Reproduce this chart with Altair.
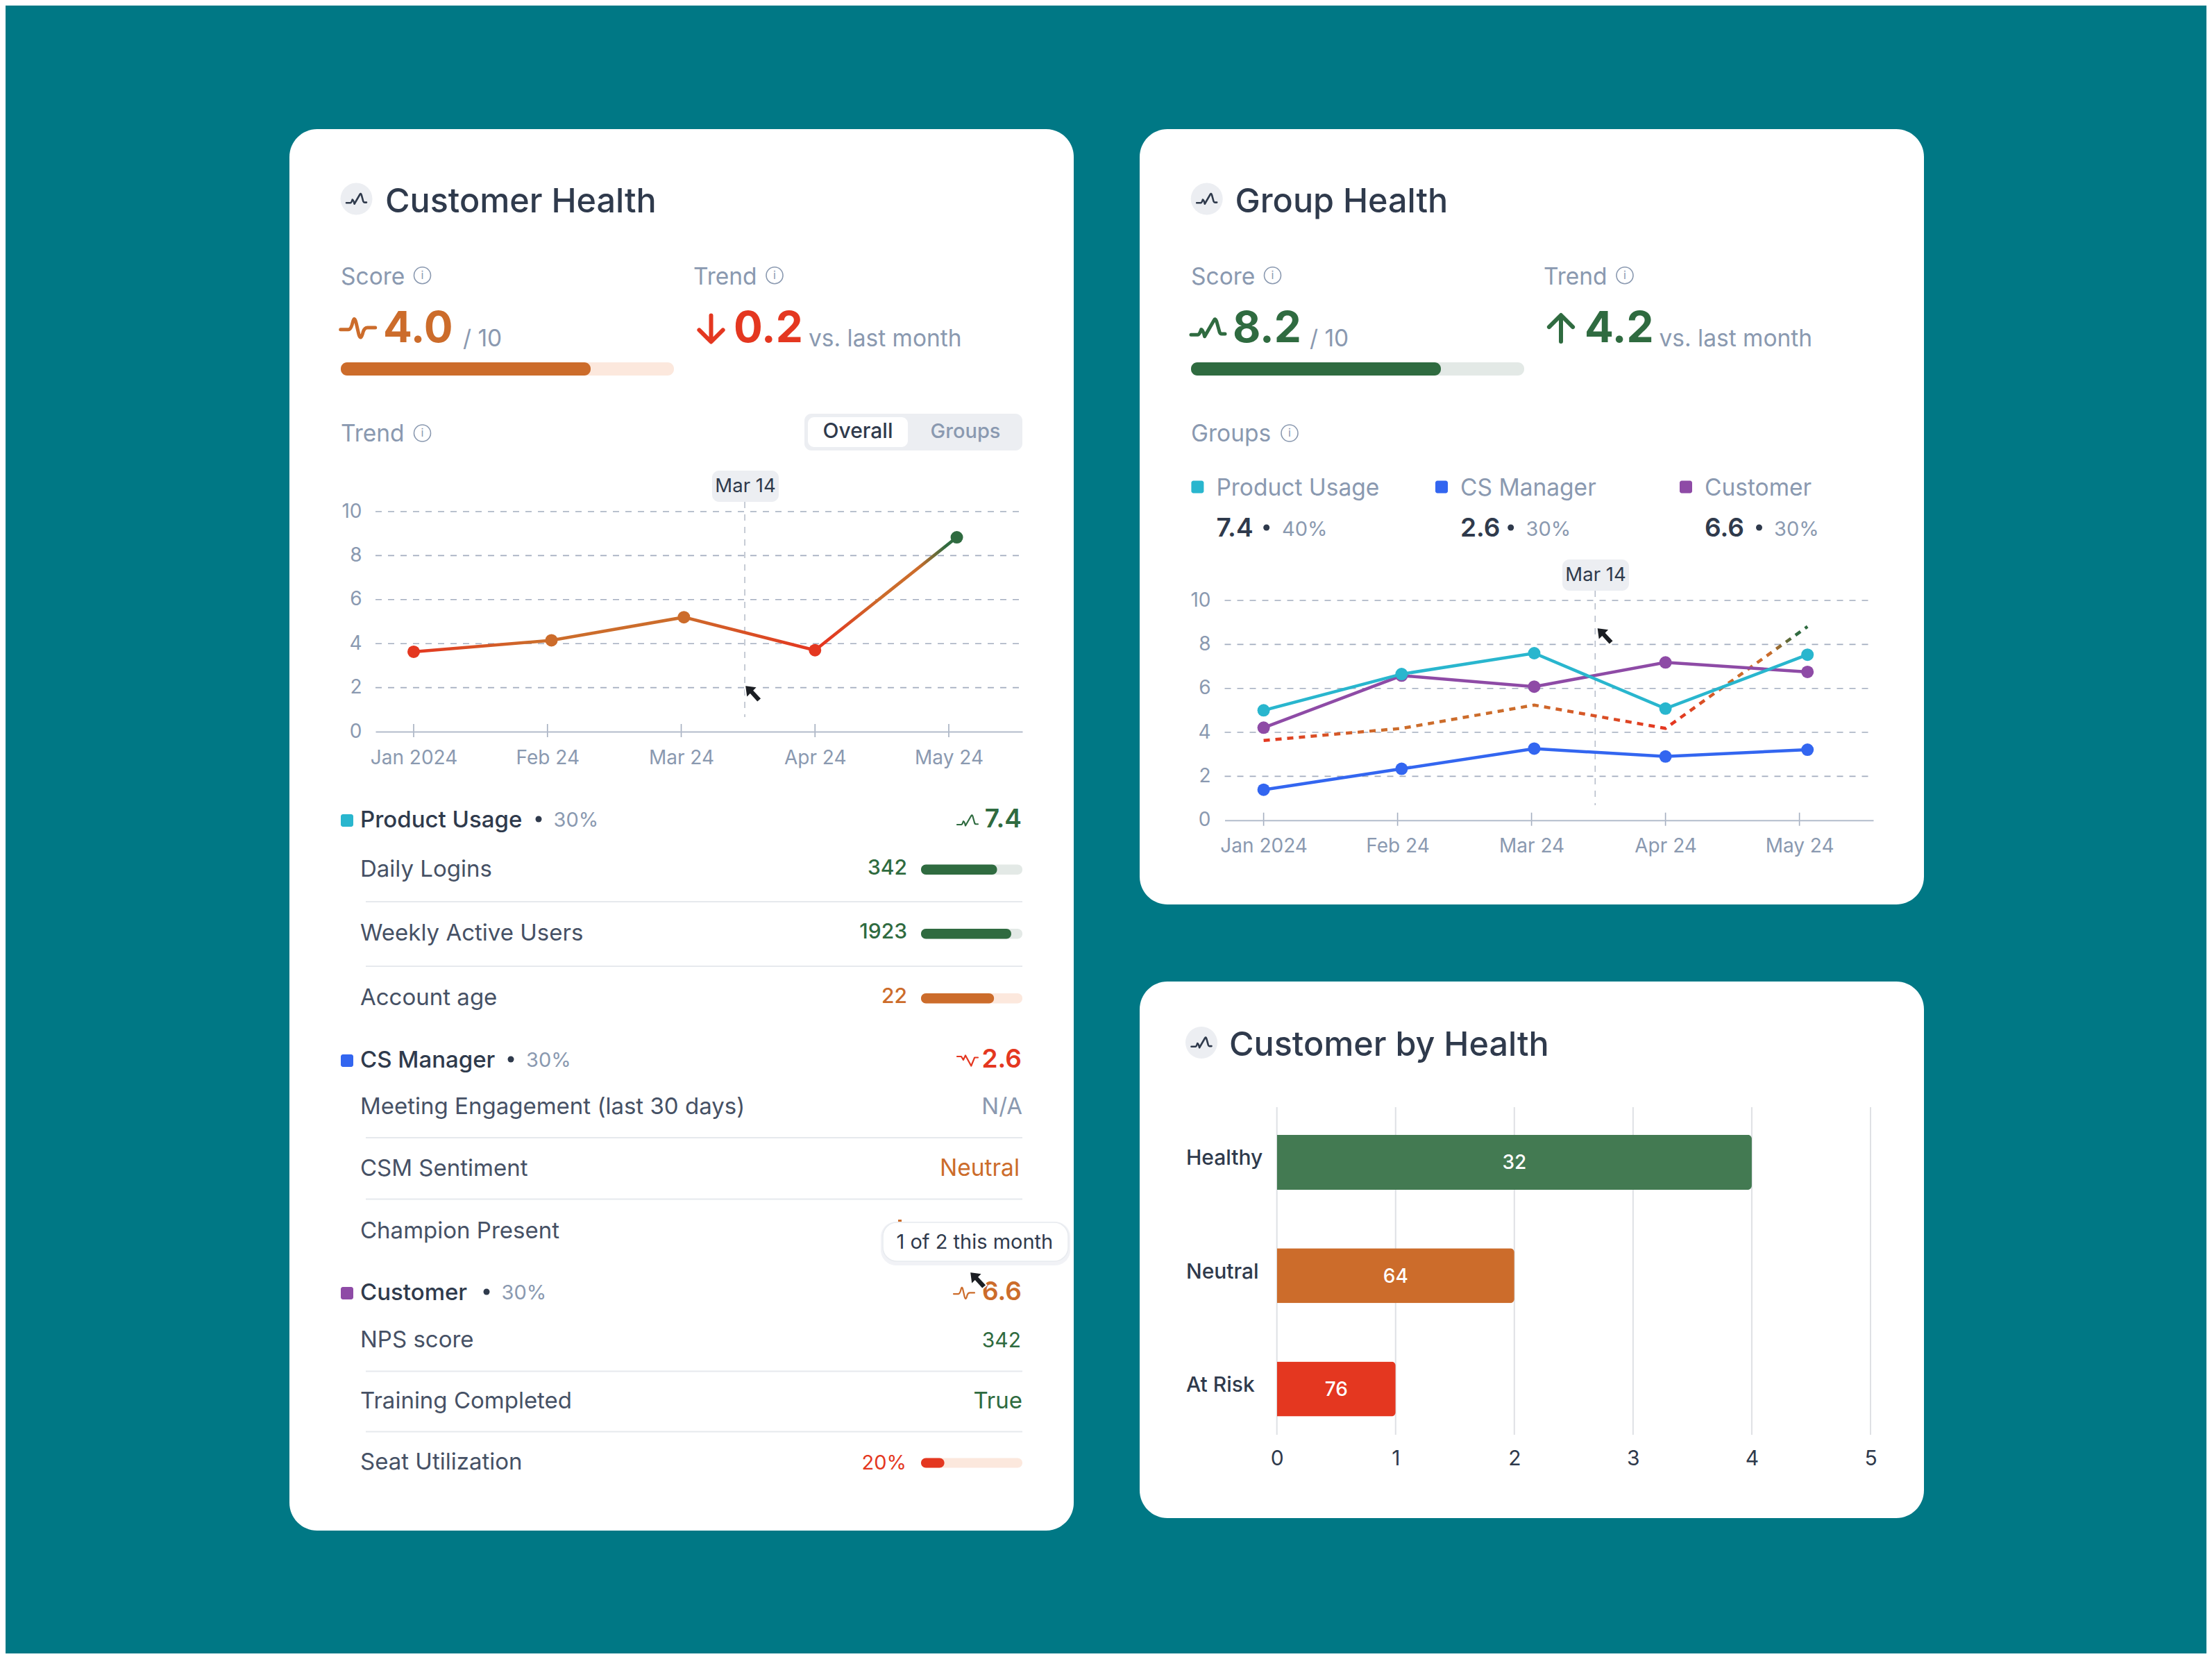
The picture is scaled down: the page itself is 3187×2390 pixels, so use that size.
import json
import altair as alt
import pandas as pd

FONT = "Inter"
W, H = 3171, 2374
INK, BODY, MUTED = "#2f3a4c", "#465165", "#8a99b0"
GREEN, ORANGE, RED = "#2f6b40", "#cc6c2b", "#e43720"
TEAL, BLUE, PURPLE = "#29b6ce", "#3366f0", "#8e4ba6"
TRACK_G, TRACK_O, PILL = "#e3e9e6", "#fce8dd", "#eceef2"

# ---------- data ----------
MONTH_LABELS = ["Jan 2024", "Feb 24", "Mar 24", "Apr 24", "May 24"]
MONTH_TICKS = [0, 1, 2, 3, 4]
Y_TICKS = [0, 2, 4, 6, 8, 10]
POINT_MONTHS = [0, 1.03, 2.02, 3.0, 4.06]
OVERALL = [3.63, 4.15, 5.2, 3.7, 8.83]
OVERALL_STATUS = ["risk", "neutral", "neutral", "risk", "healthy"]
GROUP_OVERALL = [3.63, 4.18, 5.24, 4.18, 8.81]
PRODUCT_USAGE = [5.0, 6.65, 7.6, 5.08, 7.53]
CS_MANAGER = [1.39, 2.34, 3.26, 2.9, 3.21]
CUSTOMER = [4.21, 6.58, 6.08, 7.18, 6.75]
GROUP_NAMES = ["Product Usage", "CS Manager", "Customer"]
MARCH_14 = 2.475
BAR_CATS = ["Healthy", "Neutral", "At Risk"]
BAR_LEN = [4, 2, 1]
BAR_COUNT = [32, 64, 76]
BAR_TICKS = [0, 1, 2, 3, 4, 5]
SCORE_FILL = [75, 75]
ROW_FILL = {"Daily Logins": 75, "Weekly Active Users": 89, "Account age": 72, "Seat Utilization": 23}

STATUS_SCALE = alt.Scale(domain=["risk", "neutral", "healthy"], range=[RED, ORANGE, GREEN])
GROUP_SCALE = alt.Scale(domain=GROUP_NAMES, range=[TEAL, BLUE, PURPLE])

# ---------- shapes (unit square -1..1) ----------
WAVE_UP = "M-1,.4 L-.6,.4 Q-.5,.4 -.4,.08 Q-.3,.08 -.2,.5 L.35,-.45 Q.42,-.6 .5,-.4 L.68,.25 Q.72,.35 .8,.35 L1,.35"
WAVE_DOWN = "M-1,-.4 L-.6,-.4 L-.4,-.08 L-.2,-.5 L.35,.5 L.68,-.3 L1,-.3"
WAVE_MID = "M-1,.07 L-.55,.07 Q-.4,.07 -.3,-.35 Q-.2,-.75 -.1,-.3 L.05,.35 Q.17,.75 .3,.2 Q.38,-.04 .55,-.04 L1,-.04"
ARROW_DOWN = "M0,-1 L0,.95 M-.9,.1 L0,1 L.9,.1"
ARROW_UP = "M0,1 L0,-.95 M-.9,-.1 L0,-1 L.9,-.1"
CURSOR = "M-1,-1 L-.8,.5 L-.38,.08 L.45,1 L.95,.55 L.08,-.38 L.5,-.8 Z"

L = []

def X(v):
    return alt.value(v - 8)

def Y(v):
    return alt.value(v - 8)

def box(x0, x1, y0, y1, color, r=0, **kw):
    L.append(alt.Chart().mark_rect(color=color, cornerRadius=r, **kw)
             .encode(x=X(x0), x2=X(x1), y=Y(y0), y2=Y(y1)))

def text(s, x, y, size, color=BODY, weight=400, align="left"):
    L.append(alt.Chart().mark_text(text=s, font=FONT, fontSize=size, color=color, fontWeight=weight,
                                   align=align, baseline="alphabetic").encode(x=X(x), y=Y(y)))

def glyph(path, cx, cy, half, color, sw):
    L.append(alt.Chart().mark_point(shape=path, size=(2 * half) ** 2, filled=False, stroke=color, strokeWidth=sw,
                                    strokeJoin="round", strokeCap="round", opacity=1).encode(x=X(cx), y=Y(cy)))

def dot(cx, cy, r, color):
    L.append(alt.Chart().mark_point(shape="circle", size=(2 * r) ** 2, filled=True, fill=color, stroke=None,
                                    opacity=1).encode(x=X(cx), y=Y(cy)))

def info(cx, cy):
    L.append(alt.Chart().mark_point(shape="circle", size=24 ** 2, filled=False, stroke=MUTED, strokeWidth=1.6,
                                    opacity=1).encode(x=X(cx), y=Y(cy)))
    L.append(alt.Chart().mark_text(text="i", font=FONT, fontSize=16, color=MUTED, align="center",
                                   baseline="middle").encode(x=X(cx), y=Y(cy)))

def cursor(tx, ty):
    L.append(alt.Chart().mark_point(shape=CURSOR, size=25 ** 2, filled=True, fill="#1b1e23", stroke="white",
                                    strokeWidth=2, opacity=1).encode(x=X(tx + 12.5), y=Y(ty + 12.5)))

def header(cx, cy, title, tx, ty):
    dot(cx, cy, 23, PILL)
    glyph(WAVE_UP, cx, cy, 14.5, INK, 2.6)
    text(title, tx, ty, TITLE_SIZE, INK, 500)

def meter(x0, x1, y0, y1, pct, color, track, r):
    scale = alt.Scale(domain=[0, 100], range=[x0 - 8, x1 - 8])
    for frm, to, col in [(0, 100, track), (0, pct, color)]:
        df = pd.DataFrame({"a": [frm], "b": [to]})
        L.append(alt.Chart(df).mark_rect(color=col, cornerRadius=r)
                 .encode(x=alt.X("a:Q", scale=scale, axis=None), x2="b:Q", y=Y(y0), y2=Y(y1)))

def month_scale(x0, x1, left_tick, step):
    return alt.Scale(domain=[(x0 - left_tick) / step, (x1 - left_tick) / step], range=[x0 - 8, x1 - 8], nice=False, zero=False)

def panel_axes(x0, x1, left_tick, step, y0, y10, label_x):
    xs = month_scale(x0, x1, left_tick, step)
    ys = alt.Scale(domain=[0, 10], range=[y0 - 8, y10 - 8], nice=False, zero=False)
    df = pd.DataFrame({"v": Y_TICKS[1:]})
    L.append(alt.Chart(df).mark_rule(color="#a3adbf", strokeWidth=1.6, strokeDash=[9, 9])
             .encode(y=alt.Y("v:Q", scale=ys, axis=None), x=X(x0), x2=X(x1)))
    labels = json.dumps(MONTH_LABELS)
    base = pd.DataFrame({"m": MONTH_TICKS, "v": [0] * 5})
    L.append(alt.Chart(base).mark_rule(color="#a5afc0", strokeWidth=1.6)
             .encode(x=alt.X("m:Q", scale=xs, axis=None), y=Y(y0 - 11), y2=Y(y0 + 8)))
    L.append(alt.Chart(base).mark_point(opacity=0).encode(
        x=alt.X("m:Q", scale=xs, axis=alt.Axis(orient="bottom", values=MONTH_TICKS, title=None, grid=False, ticks=False,
                domain=True, domainColor="#b3bccb", domainWidth=2, labelExpr=f"{labels}[datum.value]", zindex=1,
                labelFont=FONT, labelFontSize=LABEL_SIZE, labelColor=MUTED, labelPadding=24, labelFlush=False,
                labelOverlap=False, offset=(y0 - 8) - H)),
        y=alt.Y("v:Q", scale=ys, axis=alt.Axis(orient="left", values=Y_TICKS, title=None, grid=False, ticks=False, zindex=1,
                domain=False, labelFont=FONT, labelFontSize=LABEL_SIZE, labelColor=MUTED, labelPadding=0,
                labelOffset=0, offset=-(label_x - 8)))))
    return xs, ys

def crosshair(xs, date, y0, y1, cx, py0, py1, half):
    box(cx - half, cx + half, py0, py1, PILL, 10)
    text("Mar 14", cx, py1 - 14, 27.5, INK, 400, "center")
    df = pd.DataFrame({"m": [date]})
    L.append(alt.Chart(df).mark_rule(color="#b4bbc8", strokeWidth=1.5, strokeDash=[9, 9])
             .encode(x=alt.X("m:Q", scale=xs, axis=None), y=Y(y0), y2=Y(y1)))

def gradient_line(xs, ys, values, dash=None):
    stops = [(0, RED), (.22, ORANGE), (.49, ORANGE), (.73, RED), (.76, RED), (.86, ORANGE), (.93, ORANGE), (.98, GREEN), (1, GREEN)]
    g = alt.Gradient(gradient="linear", stops=[alt.GradientStop(color=c, offset=o) for o, c in stops], x1=0, x2=1, y1=0, y2=0)
    kw = {"strokeDash": dash} if dash else {}
    df = pd.DataFrame({"m": POINT_MONTHS, "v": values})
    L.append(alt.Chart(df).mark_line(stroke=g, strokeWidth=4.5, **kw)
             .encode(x=alt.X("m:Q", scale=xs, axis=None), y=alt.Y("v:Q", scale=ys, axis=None)))

TITLE_SIZE, LABEL_SIZE = 48.5, 28
SMALL, BODY_SIZE, BIG, VAL, PCT = 33.5, 33, 62, 37, 29

# ---------- page / cards ----------
box(417, 1547, 186, 2205, "white", 40)
box(1642, 2772, 186, 1303, "white", 40)
box(1642, 2772, 1414, 2187, "white", 40)

# ---------- Customer Health ----------
header(513.5, 286.5, "Customer Health", 555, 305.5)
text("Score", 491, 410, SMALL, MUTED)
info(608.5, 396.7)
text("Trend", 999, 410, SMALL, MUTED)
info(1116, 396.7)
glyph(WAVE_MID, 515.7, 473, 25, ORANGE, 5)
text("4.0", 552, 493, BIG, ORANGE, 700)
text("/ 10", 667, 499, SMALL, MUTED)
meter(491, 971, 522, 541, SCORE_FILL[0], ORANGE, TRACK_O, 9)
glyph(ARROW_DOWN, 1024.5, 473.5, 19, RED, 6)
text("0.2", 1057, 493, BIG, RED, 700)
text("vs. last month", 1165, 499, SMALL, MUTED)
text("Trend", 491, 636, SMALL, MUTED)
info(608.5, 624)
box(1159, 1473, 596, 649, PILL, 10)
box(1164, 1308, 601, 644, "white", 9)
text("Overall", 1236, 631, 30, INK, 500, "center")
text("Groups", 1391, 631, 29, MUTED, 500, "center")

xs, ys = panel_axes(541, 1473, 596, 192.75, 1054, 737, 521)
crosshair(xs, MARCH_14, 723, 1033, 1074, 678, 723, 48)
gradient_line(xs, ys, OVERALL)
df = pd.DataFrame({"m": POINT_MONTHS, "v": OVERALL, "s": OVERALL_STATUS})
L.append(alt.Chart(df).mark_point(filled=True, size=324, opacity=1).encode(
    x=alt.X("m:Q", scale=xs, axis=None), y=alt.Y("v:Q", scale=ys, axis=None),
    color=alt.Color("s:N", scale=STATUS_SCALE, legend=None)))
cursor(1073, 987)

# rows
def section(name, color, base, bullet_x, pct_x, value, vcolor, wave, wave_x):
    box(491, 509, base - 18, base, color, 3)
    text(name, 519, base + 1, BODY_SIZE, INK, 500)
    dot(bullet_x, base - 11, 4.5, INK)
    text("30%", pct_x, base, PCT, MUTED)
    text(value, 1472, base + 1, VAL, vcolor, 600, "right")
    glyph(wave, wave_x, base - 9, 15, vcolor, 2.2)

def row(name, base):
    text(name, 519, base, BODY_SIZE, BODY)

def rule(y):
    box(527, 1473, y - 1, y + 1, "#e6e9ed")

def row_bar(value, base, color, track, name):
    text(value, 1307, base - 3, 30, color, 500, "right")
    meter(1327, 1473, base - 17, base - 2.5, ROW_FILL[name], color, track, 7)

section("Product Usage", TEAL, 1191, 776, 797.5, "7.4", GREEN, WAVE_UP, 1394)
row("Daily Logins", 1262.5)
row_bar("342", 1262.5, GREEN, TRACK_G, "Daily Logins")
rule(1299)
row("Weekly Active Users", 1355)
row_bar("1923", 1355, GREEN, TRACK_G, "Weekly Active Users")
rule(1392)
row("Account age", 1448)
row_bar("22", 1448, ORANGE, TRACK_O, "Account age")

section("CS Manager", BLUE, 1537, 736, 758, "2.6", RED, WAVE_DOWN, 1394)
row("Meeting Engagement (last 30 days)", 1605)
text("N/A", 1473, 1605, 33, MUTED, 400, "right")
rule(1639)
row("CSM Sentiment", 1693.5)
text("Neutral", 1469, 1693.5, 33.5, ORANGE, 400, "right")
rule(1727.5)
row("Champion Present", 1783.5)
box(1294, 1299, 1757, 1760, ORANGE)

section("Customer", PURPLE, 1872, 701, 722.5, "6.6", ORANGE, WAVE_MID, 1389)
row("NPS score", 1941)
text("342", 1471, 1941, 30, GREEN, 400, "right")
rule(1975.5)
row("Training Completed", 2029)
text("True", 1473, 2029, 33, GREEN, 400, "right")
rule(2062.5)
row("Seat Utilization", 2116.5)
text("20%", 1306, 2116.5, 29, RED, 400, "right")
meter(1327, 1473, 2100.5, 2114.5, ROW_FILL["Seat Utilization"], RED, TRACK_O, 7)

# tooltip
box(1269, 1542, 1760, 1823, "#dfe3ea", 22, opacity=0.45)
box(1272, 1539, 1761, 1817, "white", 20, stroke="#e8ebef", strokeWidth=1.5)
text("1 of 2 this month", 1291.5, 1798.5, 29, INK)
cursor(1397, 1832)

# ---------- Group Health ----------
header(1738.7, 286.5, "Group Health", 1779.5, 305.5)
text("Score", 1716, 410, SMALL, MUTED)
info(1833.5, 396.7)
text("Trend", 2224, 410, SMALL, MUTED)
info(2341, 396.7)
glyph(WAVE_UP, 1740.5, 472.5, 24.5, GREEN, 5)
text("8.2", 1776, 493, BIG, GREEN, 700)
text("/ 10", 1887, 499, SMALL, MUTED)
meter(1716, 2196, 522, 541, SCORE_FILL[1], GREEN, TRACK_G, 9)
glyph(ARROW_UP, 2249, 473, 19, GREEN, 6)
text("4.2", 2283, 493, BIG, GREEN, 700)
text("vs. last month", 2390.5, 499, SMALL, MUTED)
text("Groups", 1716, 636, SMALL, MUTED)
info(1858, 624)

LEGEND_X = [1716.4, 2068, 2420]
LEGEND_VALUE = ["7.4", "2.6", "6.6"]
LEGEND_SHARE = ["40%", "30%", "30%"]
LEGEND_COLOR = [TEAL, BLUE, PURPLE]
LEGEND_BULLET = [1824.7, 2176.7, 2534.5]
LEGEND_PCT = [1847, 2198.5, 2556]
for i, name in enumerate(GROUP_NAMES):
    box(LEGEND_X[i], LEGEND_X[i] + 18, 692.5, 710.5, LEGEND_COLOR[i], 3)
    text(name, LEGEND_X[i] + 36, 714, SMALL, MUTED)
    text(LEGEND_VALUE[i], LEGEND_X[i] + 36, 773, VAL, INK, 600)
    dot(LEGEND_BULLET[i], 760, 4.5, INK)
    text(LEGEND_SHARE[i], LEGEND_PCT[i], 772, PCT, MUTED)

gxs, gys = panel_axes(1764.5, 2699, 1820.6, 193, 1181.7, 865, 1744)
crosshair(gxs, 2.475, 851, 1160, 2299, 806, 851, 48)
gradient_line(gxs, gys, GROUP_OVERALL, dash=[9, 8])
series = pd.DataFrame({
    "m": POINT_MONTHS * 3,
    "v": CUSTOMER + CS_MANAGER + PRODUCT_USAGE,
    "g": ["Customer"] * 5 + ["CS Manager"] * 5 + ["Product Usage"] * 5,
})
for g_name in ["CS Manager", "Customer", "Product Usage"]:
    sub = series[series.g == g_name]
    enc = dict(x=alt.X("m:Q", scale=gxs, axis=None), y=alt.Y("v:Q", scale=gys, axis=None),
               color=alt.Color("g:N", scale=GROUP_SCALE, legend=None))
    L.append(alt.Chart(sub).mark_line(strokeWidth=4.5).encode(**enc))
    L.append(alt.Chart(sub).mark_point(filled=True, size=324, opacity=1).encode(**enc))
cursor(2300.5, 904)

# ---------- Customer by Health ----------
header(1731, 1502, "Customer by Health", 1771, 1520.5)
bx = alt.Scale(domain=[0, 5], range=[1839.7 - 8, 2695 - 8], nice=False, zero=False)
by = alt.Scale(type="band", domain=BAR_CATS, range=[1592.7 - 8, 2082.7 - 8], paddingInner=0.516, paddingOuter=0.258)
grid = pd.DataFrame({"t": BAR_TICKS, "v": [0] * 6})
L.append(alt.Chart(grid).mark_rule(color="#dfe1e5", strokeWidth=2)
         .encode(x=alt.X("t:Q", scale=bx, axis=None), y=Y(1595), y2=Y(2067)))
L.append(alt.Chart(grid).mark_point(opacity=0).encode(
    x=alt.X("t:Q", scale=bx, axis=alt.Axis(orient="bottom", values=BAR_TICKS, title=None, grid=False, ticks=False, domain=False, zindex=1,
            labelFont=FONT, labelFontSize=30, labelColor=INK, labelPadding=19, labelFlush=False, offset=(2067 - 8) - H, format="d"))))
bars = pd.DataFrame({"c": BAR_CATS, "v": BAR_LEN, "n": BAR_COUNT})
bars["mid"] = bars.v / 2
L.append(alt.Chart(bars).mark_bar(cornerRadiusEnd=6, opacity=1).encode(
    x=alt.X("v:Q", scale=bx, axis=None), y=alt.Y("c:N", scale=by, axis=None),
    color=alt.Color("c:N", scale=alt.Scale(domain=BAR_CATS, range=["#437a52", ORANGE, RED]), legend=None)))
L.append(alt.Chart(bars).mark_text(font=FONT, fontSize=28, fontWeight=500, color="white", align="center", baseline="middle", dy=2).encode(
    x=alt.X("mid:Q", scale=bx, axis=None), y=alt.Y("c:N", scale=by, axis=None), text="n:Q"))
L.append(alt.Chart(bars).mark_text(font=FONT, fontSize=30, fontWeight=500, color=INK, align="left", baseline="alphabetic", dy=4).encode(
    x=X(1709), y=alt.Y("c:N", scale=by, axis=None), text="c:N"))

chart = (alt.layer(*L)
         .resolve_scale(x="independent", y="independent", color="independent")
         .properties(width=W, height=H, padding=0, background="#007885",
                     autosize=alt.AutoSizeParams(type="none"))
         .configure_view(stroke=None))

chart.save("out.html", embed_options={"renderer": "svg", "actions": False})
